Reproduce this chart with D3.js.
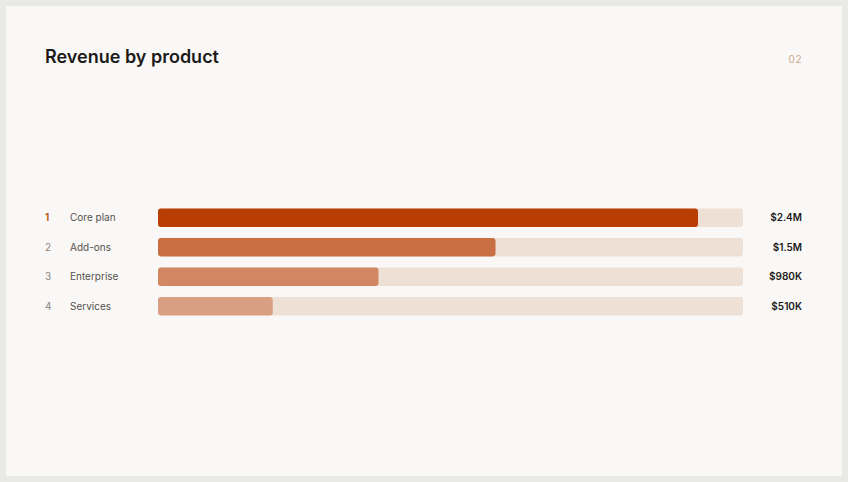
<!DOCTYPE html>
<html>
  <head>
    <title>Revenue by product</title>
    <style>
      body { margin: 0; background: #e9e9e7; }
      svg { display: block; }
      text { font-family: "Inter", "Noto Sans", sans-serif; }
    </style>
  </head>
  <body>
    <svg id="chart" width="848" height="482"></svg>
    <script src="https://cdn.jsdelivr.net/npm/d3@7"></script>
    <script>
      const products = ["Core plan", "Add-ons", "Enterprise", "Services"];
      const revenue = [2400000, 1500000, 980000, 510000];
      const valueLabels = ["$2.4M", "$1.5M", "$980K", "$510K"];

      const rows = products.map((p, i) => ({ rank: i + 1, name: p, value: revenue[i], label: valueLabels[i] }));

      const svg = d3.select("#chart");

      // card
      svg.append("rect")
        .attr("x", 6).attr("y", 6)
        .attr("width", 836).attr("height", 470)
        .attr("fill", "#f9f8f6");

      svg.append("text")
        .attr("x", 45).attr("y", 63)
        .attr("font-size", 18)
        .attr("font-weight", 600)
        .attr("fill", "#1c1a18")
        .text("Revenue by product");

      svg.append("text")
        .attr("x", 802).attr("y", 63)
        .attr("text-anchor", "end")
        .attr("font-size", 10)
        .attr("fill", "#c9a88e")
        .attr("letter-spacing", 0.5)
        .text("02");

      const x = d3.scaleLinear().domain([0, 2600000]).range([158, 743]);
      const y = d3.scaleBand().domain(products).range([203, 321]).paddingInner(0.38).paddingOuter(0.19);

      const opacity = d3.scaleOrdinal().domain(products).range([1, 0.7, 0.55, 0.4]);

      const g = svg.append("g").selectAll("g")
        .data(rows)
        .enter()
        .append("g");

      // track
      g.append("rect")
        .attr("x", x(0))
        .attr("y", d => y(d.name))
        .attr("width", x.range()[1] - x(0))
        .attr("height", y.bandwidth())
        .attr("rx", 3)
        .attr("fill", "#efe0d6");

      // bar
      g.append("rect")
        .attr("x", x(0))
        .attr("y", d => y(d.name))
        .attr("width", d => x(d.value) - x(0))
        .attr("height", y.bandwidth())
        .attr("rx", 3)
        .attr("fill", "#b83e04")
        .attr("fill-opacity", d => opacity(d.name));

      g.append("text")
        .attr("x", 45)
        .attr("y", d => y(d.name) + y.bandwidth() / 2)
        .attr("dy", "0.35em")
        .attr("font-size", 10)
        .attr("fill", d => d.rank === 1 ? "#b8520f" : "#8a8580")
        .attr("font-weight", d => d.rank === 1 ? 600 : 400)
        .text(d => d.rank);

      g.append("text")
        .attr("x", 70)
        .attr("y", d => y(d.name) + y.bandwidth() / 2)
        .attr("dy", "0.35em")
        .attr("font-size", 10)
        .attr("fill", "#55514d")
        .text(d => d.name);

      g.append("text")
        .attr("x", 802)
        .attr("y", d => y(d.name) + y.bandwidth() / 2)
        .attr("dy", "0.35em")
        .attr("text-anchor", "end")
        .attr("font-size", 10)
        .attr("font-weight", 600)
        .attr("fill", "#1c1a18")
        .text(d => d.label);
    </script>
  </body>
</html>
